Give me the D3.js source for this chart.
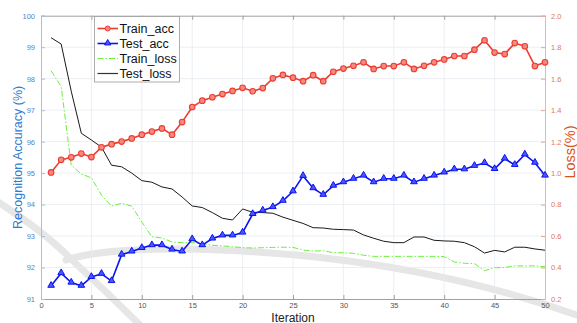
<!DOCTYPE html>
<html>
<head>
<meta charset="utf-8">
<script src="https://cdn.jsdelivr.net/npm/d3@7"></script>
<style>
  body { margin: 0; background: #fff; }
  svg { font-family: "Liberation Sans", Arial, sans-serif; }
</style>
</head>
<body>
<svg id="chart" width="577" height="323"></svg>
<script>
// data
const iterations = [1,2,3,4,5,6,7,8,9,10,11,12,13,14,15,16,17,18,19,20,21,22,23,24,25,
                    26,27,28,29,30,31,32,33,34,35,36,37,38,39,40,41,42,43,44,45,46,47,48,49,50];
const trainAcc = [95.02,95.42,95.50,95.62,95.51,95.82,95.92,96.00,96.10,96.22,96.32,96.42,96.22,96.62,97.10,
                  97.30,97.41,97.51,97.61,97.71,97.60,97.70,98.01,98.12,98.03,97.92,98.11,97.92,98.22,98.32,
                  98.41,98.52,98.31,98.40,98.40,98.52,98.31,98.41,98.52,98.61,98.72,98.72,98.92,99.22,98.83,
                  98.78,99.13,99.03,98.40,98.52];
const testAcc = [91.42,91.82,91.52,91.42,91.70,91.80,91.57,92.41,92.51,92.62,92.71,92.71,92.57,92.51,92.90,
                 92.71,92.92,93.02,93.02,93.11,93.70,93.81,93.92,94.12,94.42,94.91,94.52,94.31,94.60,94.71,
                 94.82,94.92,94.71,94.82,94.82,94.92,94.71,94.82,94.92,95.02,95.12,95.12,95.23,95.32,95.13,
                 95.46,95.26,95.59,95.33,94.92];
const trainLoss = [1.65,1.55,1.05,0.994,0.97,0.86,0.79,0.808,0.79,0.69,0.595,0.588,0.562,0.558,0.558,
                   0.55,0.541,0.537,0.533,0.526,0.524,0.526,0.528,0.529,0.528,0.511,0.505,0.507,0.494,0.494,
                   0.49,0.478,0.471,0.471,0.471,0.471,0.471,0.471,0.471,0.469,0.435,0.427,0.425,0.38,0.399,
                   0.40,0.41,0.41,0.41,0.405];
const testLoss = [1.86,1.82,1.52,1.253,1.21,1.165,1.05,1.04,1.0,0.952,0.942,0.912,0.899,0.848,0.791,
                  0.781,0.749,0.713,0.702,0.772,0.751,0.749,0.745,0.72,0.70,0.68,0.653,0.651,0.643,0.641,
                  0.638,0.607,0.586,0.567,0.558,0.558,0.594,0.594,0.573,0.569,0.567,0.558,0.532,0.492,0.509,
                  0.499,0.529,0.529,0.518,0.51];
const xTicks = [0,5,10,15,20,25,30,35,40,45,50];
const accTicks = [91,92,93,94,95,96,97,98,99,100];
const lossTicks = [0.2,0.4,0.6,0.8,1,1.2,1.4,1.6,1.8,2];
const legendNames = ["Train_acc", "Test_acc", "Train_loss", "Test_loss"];

const svg = d3.select("#chart");
const pLeft = 41, pRight = 545, pTop = 15.7, pBottom = 299;

const x = d3.scaleLinear().domain([0, 50]).range([pLeft, pRight]);
const yAcc = d3.scaleLinear().domain([91, 100]).range([pBottom, pTop]);
const yLoss = d3.scaleLinear().domain([0.2, 2]).range([pBottom, pTop]);

// faint watermark arcs behind everything
const wm = svg.append("g").attr("fill", "none").attr("stroke", "#e6e6e6")
    .attr("stroke-width", 7).attr("stroke-linecap", "round");
wm.append("path").attr("d", "M -5 200 Q 45 232 72 260 Q 110 295 145 330");
wm.append("path").attr("d", "M 66 260 Q 110 246 220 250 Q 420 258 585 318");

// grid
const grid = svg.append("g").attr("stroke", "#e6ebf0").attr("stroke-width", 0.8);
grid.selectAll(".gx").data(xTicks.slice(1, -1)).enter().append("line")
    .attr("x1", d => x(d)).attr("x2", d => x(d)).attr("y1", pTop).attr("y2", pBottom);
grid.selectAll(".gy").data(accTicks.slice(1, -1)).enter().append("line")
    .attr("y1", d => yAcc(d)).attr("y2", d => yAcc(d)).attr("x1", pLeft).attr("x2", pRight);

// axes
const axB = svg.append("g").attr("transform", "translate(0," + pBottom + ")")
    .call(d3.axisBottom(x).tickValues(xTicks).tickSize(-4).tickPadding(4));
axB.select(".domain").attr("stroke", "#a0a0a0");
axB.selectAll(".tick line").attr("stroke", "#a0a0a0");
axB.selectAll("text").attr("fill", "#555").style("font-size", "7.5px");

const axT = svg.append("g").attr("transform", "translate(0," + pTop + ")")
    .call(d3.axisTop(x).tickValues(xTicks).tickSize(-4).tickFormat(""));
axT.select(".domain").attr("stroke", "#a0a0a0");
axT.selectAll(".tick line").attr("stroke", "#a0a0a0");

const axL = svg.append("g").attr("transform", "translate(" + pLeft + ",0)")
    .call(d3.axisLeft(yAcc).tickValues(accTicks).tickSize(-4).tickPadding(6));
axL.select(".domain").attr("stroke", "#a9bfdc");
axL.selectAll(".tick line").attr("stroke", "#a9bfdc");
axL.selectAll("text").attr("fill", "#4f86c9").style("font-size", "7.5px");

const axR = svg.append("g").attr("transform", "translate(" + pRight + ",0)")
    .call(d3.axisRight(yLoss).tickValues(lossTicks).tickSize(-4).tickPadding(6));
axR.select(".domain").attr("stroke", "#eab7a4");
axR.selectAll(".tick line").attr("stroke", "#e6a68c");
axR.selectAll("text").attr("fill", "#de7a52").style("font-size", "7.5px");

// axis titles
svg.append("text").attr("transform", "translate(18," + (pTop + pBottom) / 2 + ") rotate(-90)")
    .attr("text-anchor", "middle").attr("dy", "0.35em")
    .attr("fill", "#2f7bd0").style("font-size", "12.5px").text("Recognition Accuracy (%)");
svg.append("text").attr("transform", "translate(570,152) rotate(-90)")
    .attr("text-anchor", "middle").attr("dy", "0.35em")
    .attr("fill", "#d95319").style("font-size", "14.5px").text("Loss(%)");
svg.append("text").attr("x", (pLeft + pRight) / 2).attr("y", 321.5)
    .attr("text-anchor", "middle").attr("fill", "#222").style("font-size", "12px").text("Iteration");

// lines
const accLine = d3.line().x((d, i) => x(iterations[i])).y(d => yAcc(d));
const lossLine = d3.line().x((d, i) => x(iterations[i])).y(d => yLoss(d));

svg.append("path").datum(trainLoss).attr("d", lossLine).attr("fill", "none")
    .attr("stroke", "#6cf03c").attr("stroke-width", 1).attr("stroke-dasharray", "6,2,1.5,2");
svg.append("path").datum(testLoss).attr("d", lossLine).attr("fill", "none")
    .attr("stroke", "#1a1a1a").attr("stroke-width", 1);

svg.append("path").datum(trainAcc).attr("d", accLine).attr("fill", "none")
    .attr("stroke", "#ee3b30").attr("stroke-width", 1.6);
svg.selectAll(".trainPt").data(trainAcc).enter().append("circle")
    .attr("cx", (d, i) => x(iterations[i])).attr("cy", d => yAcc(d)).attr("r", 2.8)
    .attr("fill", "#f28a80").attr("stroke", "#ee3b30").attr("stroke-width", 1.1);

svg.append("path").datum(testAcc).attr("d", accLine).attr("fill", "none")
    .attr("stroke", "#0a14f0").attr("stroke-width", 1.6);
const tri = d3.symbol().type(d3.symbolTriangle).size(19);
svg.selectAll(".testPt").data(testAcc).enter().append("path")
    .attr("d", tri)
    .attr("transform", (d, i) => "translate(" + x(iterations[i]) + "," + (yAcc(d) - 0.4) + ")")
    .attr("fill", "#4a55ff").attr("stroke", "#0a14f0").attr("stroke-width", 1);

// legend
const lg = svg.append("g");
lg.append("rect").attr("x", 94.5).attr("y", 16.5).attr("width", 85).attr("height", 65.5)
    .attr("fill", "#fff").attr("stroke", "#9a9a9a").attr("stroke-width", 0.8);
const lgStyles = [
  { color: "#ee3b30", dash: null, w: 1.6, mark: "circle" },
  { color: "#0a14f0", dash: null, w: 1.6, mark: "tri" },
  { color: "#6cf03c", dash: "6,2,1.5,2", w: 1, mark: null },
  { color: "#333", dash: null, w: 1.2, mark: null }
];
legendNames.forEach((name, i) => {
  const yy = 28.5 + i * 15;
  const s = lgStyles[i];
  lg.append("line").attr("x1", 97.5).attr("x2", 118).attr("y1", yy).attr("y2", yy)
      .attr("stroke", s.color).attr("stroke-width", s.w).attr("stroke-dasharray", s.dash);
  if (s.mark === "circle") {
    lg.append("circle").attr("cx", 107.7).attr("cy", yy).attr("r", 2.5)
        .attr("fill", "#f28a80").attr("stroke", s.color).attr("stroke-width", 1);
  } else if (s.mark === "tri") {
    lg.append("path").attr("d", d3.symbol().type(d3.symbolTriangle).size(17))
        .attr("transform", "translate(107.7," + (yy - 0.4) + ")")
        .attr("fill", "#4a55ff").attr("stroke", s.color).attr("stroke-width", 1);
  }
  lg.append("text").attr("x", 119.5).attr("y", yy).attr("dy", "0.36em")
      .attr("fill", "#111").style("font-size", "12.5px").text(name);
});
</script>
</body>
</html>
